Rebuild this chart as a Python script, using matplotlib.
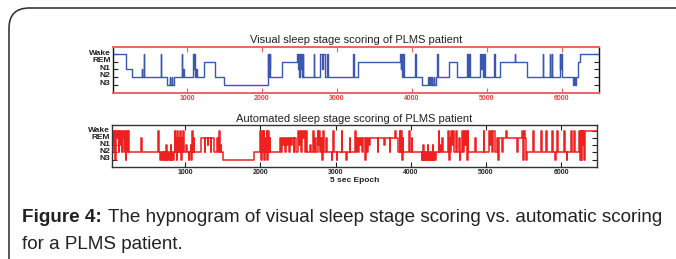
import matplotlib
matplotlib.use("Agg")
import matplotlib.pyplot as plt
import matplotlib.transforms as mtransforms
from matplotlib.patches import FancyBboxPatch

plt.rcParams['font.family'] = ['Liberation Sans', 'DejaVu Sans']

# ---------------- data ----------------
stage_names = ['N3', 'N2', 'N1', 'REM', 'Wake']
stage_codes = [1, 2, 3, 4, 5]
x_ticks = [1000, 2000, 3000, 4000, 5000, 6000]

# visual scoring: change points (epoch, stage code)
visual_epochs = [0, 190, 262, 395, 405, 422, 430, 648, 656,
                 740, 770, 776, 800, 806, 830,
                 930, 938, 948, 958,
                 1085, 1092, 1100, 1108, 1118, 1128,
                 1225, 1370, 1500, 2075, 2083, 2090, 2098, 2106, 2114,
                 2270, 2474, 2480, 2488, 2496, 2506, 2514, 2524, 2532, 2545, 2552,
                 2690, 2697, 2780, 2800, 2815, 2846, 2870, 2877, 3220, 3228, 3285,
                 3844, 3852, 3860, 3870, 3880, 3888, 4043, 4050, 4136,
                 4216, 4224, 4240, 4248, 4265, 4272, 4290, 4298, 4320, 4336, 4344,
                 4500, 4600, 4735, 4742, 4768, 4776,
                 4908, 4916, 4930, 4945, 4960, 4975, 5094, 5102, 5174, 5373, 5380, 5533,
                 5746, 5754, 5839, 5846, 5862, 5870, 5972, 5980, 5990, 6000,
                 6145, 6160, 6170, 6190, 6211, 6238, 6500]
visual_stages = [5, 3, 2, 3, 2, 5, 2, 5, 2,
                 1, 2, 1, 2, 1, 2,
                 5, 2, 3, 2,
                 5, 3, 5, 2, 3, 2,
                 4, 2, 1, 5, 2, 5, 3, 5, 2,
                 4, 5, 3, 5, 2, 5, 3, 5, 2, 5, 2,
                 5, 2, 5, 3, 5, 2, 5, 2, 5, 2, 4,
                 5, 3, 5, 2, 5, 2, 5, 2, 1,
                 2, 1, 2, 1, 2, 1, 2, 1, 2, 5, 2,
                 4, 2, 5, 2, 5, 2,
                 5, 3, 5, 2, 5, 2, 5, 2, 4, 5, 4, 2,
                 5, 2, 5, 2, 5, 2, 5, 3, 5, 2,
                 1, 2, 1, 2, 4, 5, 5]

# automated scoring: change points (epoch, stage code)
auto_epochs = [0, 8, 16, 28, 36, 50, 58, 70, 78, 92, 100, 112, 120, 135, 142, 155, 162, 175, 185, 192, 205, 212, 225, 235, 242, 255,
               415, 422,
               640, 648, 665, 672, 690, 700, 712, 722, 735, 742, 750, 760, 770, 785, 795, 805, 812, 825, 835, 848,
               860, 868, 878, 886, 895, 905, 915, 922, 935, 945, 955, 962, 975, 982,
               1010, 1018, 1045, 1052, 1070, 1078, 1090, 1098, 1110, 1118,
               1210, 1260, 1268, 1300, 1308, 1340, 1348, 1380,
               1425, 1432, 1450, 1458, 1470, 1478,
               1500, 1910,
               2000, 2008, 2020, 2030, 2042, 2050, 2062, 2070, 2082, 2092, 2102, 2110, 2120, 2128,
               2260, 2275, 2285, 2300, 2310, 2330, 2340, 2355, 2365, 2385, 2395, 2410, 2420, 2440, 2450, 2470,
               2500, 2510, 2520, 2535, 2548, 2560, 2575, 2590, 2605, 2615,
               2665, 2675, 2700, 2708, 2730, 2738, 2760, 2770, 2785, 2795, 2810, 2820, 2835, 2845, 2870, 2880,
               2945, 2953, 2970, 2978, 3012, 3020, 3080, 3088, 3140, 3148,
               3185, 3193, 3260, 3268, 3285, 3300, 3310, 3330, 3340, 3355, 3365, 3390, 3398, 3420, 3430, 3450, 3460,
               3560, 3568, 3650, 3658, 3720, 3728, 3790, 3798,
               3833, 3850, 3858, 3870, 3880, 3890, 3900, 3975, 3983, 4010, 4018,
               4143, 4150, 4158, 4168, 4175, 4185, 4195, 4205, 4215, 4225, 4232, 4245, 4255, 4265, 4275, 4290, 4298, 4310, 4320, 4333,
               4370, 4378, 4390, 4398, 4420, 4428,
               4500, 4508, 4518, 4528, 4540, 4550, 4560, 4571,
               4605, 4613, 4643, 4651, 4660, 4685, 4693,
               4714, 4722, 4732, 4745, 4755, 4765,
               4860, 4868, 4970, 4978,
               5047, 5055, 5065, 5080, 5100, 5119,
               5143, 5160, 5168, 5215, 5223, 5270, 5278, 5420, 5428, 5483, 5495, 5505, 5515, 5530, 5540,
               5630, 5638, 5735, 5743, 5800, 5808, 5880, 5888, 5920, 5928, 5945, 5953, 6040, 6048, 6075, 6083, 6135, 6143, 6172, 6180,
               6240, 6250, 6262, 6270, 6280, 6290, 6298, 6305, 6312, 6500]
auto_stages = [5, 2, 5, 3, 5, 2, 5, 1, 5, 4, 5, 2, 5, 3, 5, 2, 4, 5, 2, 5, 1, 4, 5, 2, 5, 2,
               4, 2,
               5, 2, 1, 2, 1, 2, 1, 2, 1, 3, 1, 2, 1, 2, 1, 3, 1, 2, 1, 2,
               5, 2, 4, 1, 5, 2, 4, 2, 5, 1, 4, 2, 5, 2,
               3, 2, 1, 2, 3, 1, 5, 2, 4, 2,
               4, 2, 4, 3, 4, 2, 4, 2,
               4, 2, 5, 2, 3, 2,
               1, 2,
               5, 1, 5, 2, 5, 1, 4, 2, 5, 1, 5, 2, 4, 2,
               4, 2, 4, 3, 4, 2, 4, 3, 4, 2, 4, 3, 4, 2, 4, 2,
               5, 3, 5, 2, 5, 4, 5, 2, 5, 2,
               3, 2, 5, 2, 4, 2, 5, 3, 5, 2, 4, 1, 5, 2, 4, 2,
               1, 2, 5, 2, 1, 2, 5, 2, 1, 2,
               4, 2, 5, 2, 4, 2, 4, 3, 4, 2, 4, 1, 4, 2, 4, 3, 4,
               2, 4, 3, 4, 2, 4, 5, 4,
               2, 5, 2, 5, 1, 4, 2, 5, 2, 4, 2,
               1, 2, 1, 3, 1, 2, 1, 2, 1, 3, 1, 2, 1, 2, 1, 3, 1, 2, 1, 2,
               5, 2, 3, 2, 4, 2,
               5, 1, 4, 2, 5, 3, 5, 2,
               5, 2, 4, 1, 2, 5, 2,
               5, 3, 5, 1, 5, 2,
               4, 2, 5, 2,
               5, 3, 5, 2, 5, 2,
               4, 1, 4, 2, 4, 5, 4, 2, 4, 5, 1, 5, 4, 1, 2,
               5, 2, 5, 2, 5, 2, 5, 2, 1, 2, 5, 2, 5, 2, 1, 2, 5, 2, 5, 2,
               5, 1, 5, 1, 5, 3, 5, 1, 5, 5]

# ---------------- figure ----------------
fig = plt.figure(figsize=(6.76, 2.59), dpi=100)

# rounded frame
frame = FancyBboxPatch((9 / 676, -20 / 259), 700 / 676, (259 - 8 + 20) / 259,
                       boxstyle="round,pad=0,rounding_size=0.03",
                       transform=fig.transFigure, fill=False,
                       edgecolor='#2a2a2a', linewidth=1.1, mutation_aspect=2.6)
fig.patches.append(frame)

blue = '#3b58b0'
red_line = '#ee2020'
red_spine = '#f06262'
tick_fs = 5
label_shift = mtransforms.ScaledTranslation(0, 2 / 100, fig.dpi_scale_trans)

def style_axis(ax, ylim, xlim):
    ax.set_xlim(*xlim)
    ax.set_ylim(*ylim)
    ax.set_yticks(stage_codes)
    ax.set_yticklabels(stage_names, fontsize=6, fontweight='bold', color='#333333')
    ax.set_xticks(x_ticks)
    ax.set_xticklabels([str(t) for t in x_ticks], fontsize=tick_fs, fontweight='bold')
    ax.tick_params(axis='both', direction='in', length=3.5, width=0.8, pad=1.5,
                   top=True, right=True)
    for lab in ax.get_yticklabels():
        lab.set_transform(lab.get_transform() + label_shift)

# top axis: visual scoring
ax1 = fig.add_axes([112.7 / 676, 1 - 92.5 / 259, (599 - 112.7) / 676, (92.5 - 46.7) / 259])
ax1.step(visual_epochs, visual_stages, where='post', color=blue, linewidth=1.0)
style_axis(ax1, (-0.05, 6.0), (10, 6495))
for s in ['top', 'bottom']:
    ax1.spines[s].set_color(red_spine)
    ax1.spines[s].set_linewidth(1.4)
for s in ['left', 'right']:
    ax1.spines[s].set_color('#111111')
    ax1.spines[s].set_linewidth(1.0)
ax1.tick_params(axis='x', colors=red_spine, labelcolor='#e84040')
ax1.tick_params(axis='y', colors='#222222')
ax1.set_title('Visual sleep stage scoring of PLMS patient', fontsize=8, pad=3, color='#222222')

# bottom axis: automated scoring
ax2 = fig.add_axes([112 / 676, 1 - 166.7 / 259, (596.7 - 112) / 676, (166.7 - 124.7) / 259])
ax2.step(auto_epochs, auto_stages, where='post', color=red_line, linewidth=1.1)
style_axis(ax2, (0.0, 5.9), (24, 6474))
for s in ax2.spines.values():
    s.set_color('#333333')
    s.set_linewidth(1.0)
ax2.tick_params(axis='both', colors='#222222')
ax2.set_title('Automated sleep stage scoring of PLMS patient', fontsize=8, pad=2, color='#222222')
ax2.set_xlabel('5 sec Epoch', fontsize=6, fontweight='bold', labelpad=1, color='#222222')

# caption
cap_fs = 13.6
t1 = fig.text(22 / 676, 1 - 222 / 259, 'Figure 4:', fontsize=cap_fs, fontweight='bold',
              color='#222222', ha='left', va='baseline')
fig.canvas.draw()
bb = t1.get_window_extent()
fig.text((bb.x1 + 6) / fig.bbox.width, 1 - 222 / 259,
         'The hypnogram of visual sleep stage scoring vs. automatic scoring',
         fontsize=cap_fs, color='#222222', ha='left', va='baseline')
fig.text(22 / 676, 1 - 249 / 259, 'for a PLMS patient.', fontsize=cap_fs, color='#222222',
         ha='left', va='baseline')

fig.savefig('out.png', dpi=100)
